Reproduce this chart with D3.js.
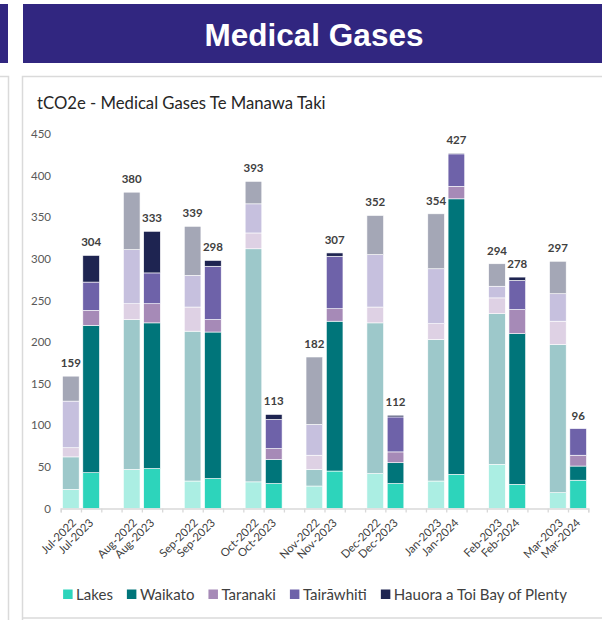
<!DOCTYPE html>
<html lang="en">
<head>
    <meta charset="UTF-8">
    <title>Medical Gases</title>
    <style>
        body {
            margin: 0;
            background: #fff;
            font-family: Lato, "Open Sans", sans-serif;
        }
        svg { display: block; }
    </style>
    <script src="https://d3js.org/d3.v7.min.js"></script>
</head>
<body>
<div id="chart"></div>

<script>
// categories
var prevLabels = ["Jul-2022", "Aug-2022", "Sep-2022", "Oct-2022", "Nov-2022", "Dec-2022", "Jan-2023", "Feb-2023", "Mar-2023"];
var currLabels = ["Jul-2023", "Aug-2023", "Sep-2023", "Oct-2023", "Nov-2023", "Dec-2023", "Jan-2024", "Feb-2024", "Mar-2024"];
var seriesNames = ["Lakes", "Waikato", "Taranaki", "Tairāwhiti", "Hauora a Toi Bay of Plenty"];

// previous year (2022/23) values, tCO2e
var lakesPrev      = [23, 47, 33, 32, 27, 42, 33, 53, 19];
var waikatoPrev    = [39, 180, 180, 280, 20, 181, 170, 181, 178];
var taranakiPrev   = [11, 19, 29, 19, 17, 19, 19, 19, 28];
var tairawhitiPrev = [56, 65, 38, 35, 37, 63, 66, 14, 33];
var hauoraPrev     = [30, 69, 59, 27, 81, 47, 66, 27, 39];

// current year (2023/24) values, tCO2e
var lakesCurr      = [43, 48, 36, 30, 45, 30, 41, 29, 34];
var waikatoCurr    = [177, 175, 176, 29, 180, 25, 331, 181, 17];
var taranakiCurr   = [18, 23, 15, 13, 15, 13, 15, 29, 13];
var tairawhitiCurr = [34, 37, 64, 35, 63, 42, 39, 35, 32];
var hauoraCurr     = [32, 50, 7, 6, 4, 2, 1, 4, 0];

var yTicks = [0, 50, 100, 150, 200, 250, 300, 350, 400, 450];

var colors      = ["#2dd4bb", "#00757a", "#a68ab7", "#6e62a9", "#1e2451"];
var lightColors = ["#abeee3", "#9dc8ca", "#ded1e4", "#c6c0de", "#a4a7b6"];

var W = 602, H = 620;

var svg = d3.select("#chart")
  .append("svg")
    .attr("width", W)
    .attr("height", H);

// header banners
svg.append("rect").attr("x", 0).attr("y", 4).attr("width", 8).attr("height", 59).attr("fill", "#312680");
svg.append("rect").attr("x", 23).attr("y", 4).attr("width", W - 23).attr("height", 59).attr("fill", "#312680");
svg.append("text")
    .attr("x", 314)
    .attr("y", 46)
    .attr("text-anchor", "middle")
    .style("font-family", "'Liberation Sans', Arial, sans-serif")
    .style("font-weight", "bold")
    .style("font-size", "31.5px")
    .attr("fill", "#fff")
    .text("Medical Gases");

// panel borders
svg.append("path")
    .attr("d", "M-2,76.5H8.5V622")
    .attr("fill", "none").attr("stroke", "#dadada").attr("stroke-width", 1.5);
svg.append("path")
    .attr("d", "M22.5,622V76.5H604")
    .attr("fill", "none").attr("stroke", "#dadada").attr("stroke-width", 1.5);
svg.append("line")
    .attr("x1", 22.5).attr("x2", 604).attr("y1", 618).attr("y2", 618)
    .attr("stroke", "#dadada").attr("stroke-width", 1.5);

svg.append("text")
    .attr("x", 37)
    .attr("y", 109)
    .style("font-size", "16.7px")
    .attr("fill", "#262626")
    .text("tCO2e - Medical Gases Te Manawa Taki");

// build slots: prev, curr, gap
var bars = [];
prevLabels.forEach(function(lbl, i) {
    bars.push({slot: i * 3, label: lbl, light: true,
        vals: [lakesPrev[i], waikatoPrev[i], taranakiPrev[i], tairawhitiPrev[i], hauoraPrev[i]]});
    bars.push({slot: i * 3 + 1, label: currLabels[i], light: false,
        vals: [lakesCurr[i], waikatoCurr[i], taranakiCurr[i], tairawhitiCurr[i], hauoraCurr[i]]});
});
var nSlots = prevLabels.length * 3 - 1;

var x0 = 60.7, x1 = 588.3, yBase = 508.5, yTop = 133.9;

var x = d3.scaleBand()
    .domain(d3.range(nSlots))
    .range([x0, x1])
    .paddingInner(0.18)
    .paddingOuter(0.09);

var xEdge = d3.scaleLinear().domain([0, nSlots]).range([x0, x1]);

var y = d3.scaleLinear()
    .domain([0, 450])
    .range([yBase, yTop]);

// y axis labels (no line)
var yAxis = svg.append("g")
    .attr("transform", "translate(51,0)")
    .call(d3.axisLeft(y).tickValues(yTicks).tickSize(0).tickPadding(0));
yAxis.select(".domain").remove();
yAxis.selectAll("text")
    .style("font-family", "Lato, sans-serif")
    .style("font-size", "11.5px")
    .attr("fill", "#595959");

// stacked bars
bars.forEach(function(b) {
    var acc = 0;
    var segs = b.vals.map(function(v, k) {
        var s = {y0: acc, y1: acc + v, k: k};
        acc += v;
        return s;
    });
    b.total = acc;
    svg.append("g").selectAll("rect")
      .data(segs.filter(function(s) { return s.y1 > s.y0; }))
      .enter()
      .append("rect")
        .attr("x", x(b.slot))
        .attr("width", x.bandwidth())
        .attr("y", function(s) { return y(s.y1); })
        .attr("height", function(s) { return y(s.y0) - y(s.y1); })
        .attr("fill", function(s) { return b.light ? lightColors[s.k] : colors[s.k]; })
        .attr("stroke", "#fff")
        .attr("stroke-width", 0.6);
});

// totals above bars
svg.append("g").selectAll("text")
  .data(bars)
  .enter()
  .append("text")
    .attr("x", function(b) { return x(b.slot) + x.bandwidth() / 2; })
    .attr("y", function(b) { return y(b.total) - 9; })
    .attr("text-anchor", "middle")
    .style("font-size", "11.5px")
    .style("font-weight", "bold")
    .attr("fill", "#404040")
    .text(function(b) { return b.total; });

// x axis: line + ticks at slot edges
var xAxis = svg.append("g")
    .attr("transform", "translate(0," + yBase + ")")
    .call(d3.axisBottom(xEdge).tickValues(d3.range(nSlots + 1)).tickSize(4).tickFormat(""));
xAxis.select(".domain").attr("stroke", "#d9d9d9").attr("stroke-width", 1.3);
xAxis.selectAll(".tick line").attr("stroke", "#d9d9d9").attr("stroke-width", 1.3);

svg.append("g").selectAll("text")
  .data(bars)
  .enter()
  .append("text")
    .attr("transform", function(b) {
        var cx = x(b.slot) + x.bandwidth() / 2 + (b.light ? 6 : 3);
        return "translate(" + cx + "," + (yBase + 15) + ")rotate(-45)";
    })
    .attr("text-anchor", "end")
    .style("font-size", "11.3px")
    .attr("fill", "#404040")
    .text(function(b) { return b.label; });

// legend
var legend = svg.append("g");
var lx = 0;
seriesNames.forEach(function(name, k) {
    var g = legend.append("g").attr("transform", "translate(" + lx + ",0)");
    g.append("rect")
        .attr("x", 0).attr("y", 589.5)
        .attr("width", 9.5).attr("height", 9.5)
        .attr("fill", colors[k]);
    var t = g.append("text")
        .attr("x", 13)
        .attr("y", 599.5)
        .style("font-size", "15px")
        .attr("fill", "#404040")
        .text(name);
    lx += 13 + t.node().getComputedTextLength() + 14;
});
var legendW = lx - 14;
legend.attr("transform", "translate(" + (315 - legendW / 2) + ",0)");
</script>
</body>
</html>
